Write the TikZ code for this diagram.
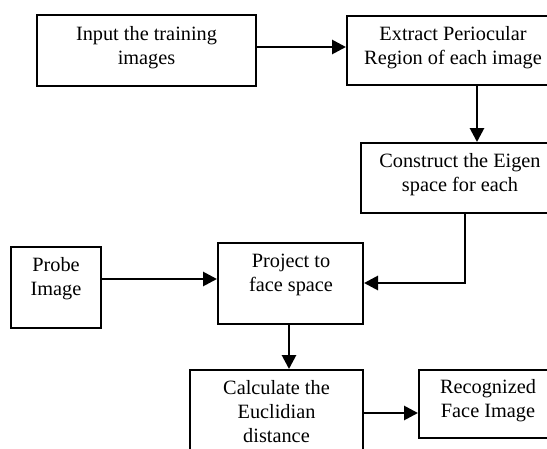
\documentclass[tikz,border=0pt]{standalone}
\usepackage{fontspec}
\setmainfont{Liberation Serif}
\usetikzlibrary{arrows.meta,calc}
\begin{document}
\begin{tikzpicture}[x=1pt,y=-1pt,
  box/.style={draw=black, line width=2pt, fill=white, inner sep=0pt},
  caption/.style={align=center, font=\fontsize{20.3}{24}\selectfont, inner sep=0pt},
  flow/.style={line width=2.8pt, -{Triangle[length=14pt,width=14pt]}}]
  % page area (boxes on the right run past the edge)
  \clip (0,0) rectangle (547,448);
  \fill[white] (0,0) rectangle (547,448);

  % boxes
  \node[box, minimum width=219pt, minimum height=71pt] (input)   at (146.5,50.5) {};
  \node[box, minimum width=212pt, minimum height=69pt] (extract) at (453,50.5) {};
  \node[box, minimum width=198pt, minimum height=70pt] (eigen)   at (460,178) {};
  \node[box, minimum width=90pt,  minimum height=81pt] (probe)   at (56,287.5) {};
  \node[box, minimum width=145pt, minimum height=81pt] (project) at (290.5,283.5) {};
  \node[box, minimum width=173pt, minimum height=86pt] (dist)    at (276.5,413) {};
  \node[box, minimum width=138pt, minimum height=68pt] (result)  at (488,404) {};

  % box captions
  \node[caption] (input-t)   at (146.5,47.5) {Input the training\\images};
  \node[caption] (extract-t) at (453,47.5)   {Extract Periocular\\Region of each image};
  \node[caption] (eigen-t)   at (460,175)    {Construct the Eigen\\space for each};
  \node[caption] (probe-t)   at (56,279)     {Probe\\Image};
  \node[caption] (project-t) at (291,275)    {Project to\\face space};
  \node[caption] (dist-t)    at (276.5,412)  {Calculate the\\Euclidian\\distance};
  \node[caption] (result-t)  at (488,401)    {Recognized\\Face Image};

  % attachment points
  \coordinate (c1) at (0,47);
  \coordinate (c2) at (477,0);
  \coordinate (c3) at (465,0);
  \coordinate (c4) at (0,283);
  \coordinate (c5) at (0,279);
  \coordinate (c6) at (289,0);
  \coordinate (c7) at (0,413);

  % connectors
  \draw[flow] (input.east |- c1) -- (extract.west |- c1);
  \draw[flow] (extract.south -| c2) -- (eigen.north -| c2);
  \draw[flow] (eigen.south -| c3) -- (c3 |- c4) -- (project.east |- c4);
  \draw[flow] (probe.east |- c5) -- (project.west |- c5);
  \draw[flow] (project.south -| c6) -- (dist.north -| c6);
  \draw[flow] (dist.east |- c7) -- (result.west |- c7);
\end{tikzpicture}
\end{document}
